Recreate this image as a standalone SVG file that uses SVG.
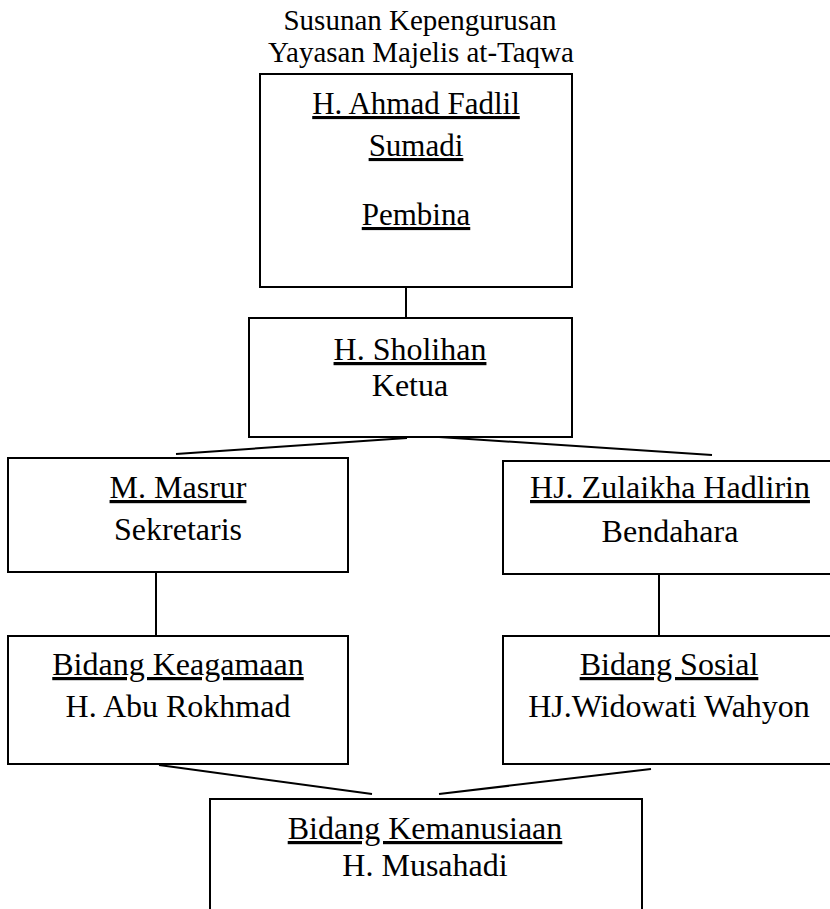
<svg xmlns="http://www.w3.org/2000/svg" width="830" height="909" viewBox="0 0 830 909">
<style>
.box{fill:#fff;stroke:#000;stroke-width:2}
.con{stroke:#000;stroke-width:2;fill:none}
text{font-family:"Liberation Serif","Times New Roman",serif;fill:#000;text-anchor:middle}
.t{font-size:29px}
.n{font-size:32px}
.u{text-decoration:underline}
</style>
<rect width="830" height="909" fill="#fff"/>
<g id="title">
<text class="t" x="420" y="30">Susunan Kepengurusan</text>
<text class="t" x="421" y="62">Yayasan Majelis at-Taqwa</text>
</g>
<g id="connectors">
<line class="con" x1="406" y1="287" x2="406" y2="317"/>
<line class="con" x1="407" y1="438" x2="176" y2="454"/>
<line class="con" x1="439" y1="437" x2="712" y2="455"/>
<line class="con" x1="156" y1="572" x2="156" y2="636"/>
<line class="con" x1="659" y1="574" x2="659" y2="636"/>
<line class="con" x1="159" y1="765" x2="372" y2="794"/>
<line class="con" x1="651" y1="769" x2="439" y2="794"/>
</g>
<g id="pembina">
<rect class="box" x="260" y="74" width="312" height="213"/>
<text class="n u" x="416" y="114" style="font-size:31px">H. Ahmad Fadlil</text>
<text class="n u" x="416" y="156" style="font-size:31px">Sumadi</text>
<text class="n u" x="416" y="225" style="font-size:31px">Pembina</text>
</g>
<g id="ketua">
<rect class="box" x="249" y="318" width="323" height="119"/>
<text class="n u" x="410" y="360">H. Sholihan</text>
<text class="n" x="410" y="396">Ketua</text>
</g>
<g id="sekretaris">
<rect class="box" x="8" y="458" width="340" height="114"/>
<text class="n u" x="178" y="498">M. Masrur</text>
<text class="n" x="178" y="540">Sekretaris</text>
</g>
<g id="bendahara">
<rect class="box" x="503" y="461" width="336" height="113"/>
<text class="n u" x="670" y="498">HJ. Zulaikha Hadlirin</text>
<text class="n" x="670" y="542">Bendahara</text>
</g>
<g id="keagamaan">
<rect class="box" x="8" y="636" width="340" height="128"/>
<text class="n u" x="178" y="675">Bidang Keagamaan</text>
<text class="n" x="178" y="717">H. Abu Rokhmad</text>
</g>
<g id="sosial">
<rect class="box" x="503" y="636" width="336" height="128"/>
<text class="n u" x="669" y="675">Bidang Sosial</text>
<text class="n" x="669" y="717">HJ.Widowati Wahyon</text>
</g>
<g id="kemanusiaan">
<rect class="box" x="210" y="799" width="432" height="130"/>
<text class="n u" x="425" y="839">Bidang Kemanusiaan</text>
<text class="n" x="425" y="876">H. Musahadi</text>
</g>
</svg>
